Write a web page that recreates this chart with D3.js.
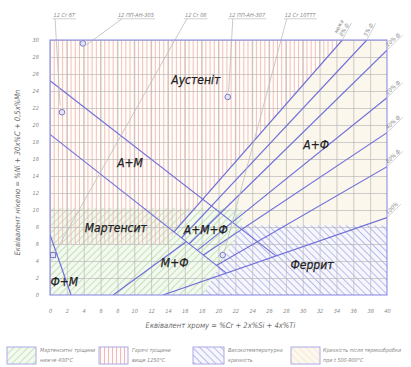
<!DOCTYPE html>
<html><head><meta charset="utf-8">
<script src="https://cdn.jsdelivr.net/npm/d3@7"></script>
<style>
html,body{margin:0;padding:0;background:#fff;}
svg{display:block;}
text{font-family:"DejaVu Sans Condensed","DejaVu Sans",sans-serif;}
</style></head><body>
<svg id="c" width="411" height="367"></svg>
<script>
// ---------- data ----------
const xTicks = [0,2,4,6,8,10,12,14,16,18,20,22,24,26,28,30,32,34,36,38,40];
const yTicks = [0,2,4,6,8,10,12,14,16,18,20,22,24,26,28,30];
const xTitle = "Еквівалент хрому = %Cr + 2x%Si + 4x%Ti";
const yTitle = "Еквівалент нікелю = %Ni + 30x%C + 0,5x%Mn";

// phase boundaries [Cr_eq, Ni_eq]
const lineA_AM   = [[0,25.2],[26.8,4.6]];   // A | A+M
const lineAM_M   = [[0,18.9],[20.9,2.6]];   // A+M | M
const lineM_MF   = [[7.5,0],[16.2,6.3]];    // M | M+F
const lineM_FM   = [[0,7.1],[2.5,0]];       // M | Ф+М

// ferrite iso-lines
const ferriteLabels = [["межа","0% ф"],["5% ф"],["10% ф"],["20% ф"],["40% ф"],["80% ф"],["100%"]];
const ferriteFrom   = [[14.7,7.4],[15.6,6.7],[16.5,6.0],[17.5,5.25],[18.2,4.7],[19.8,3.5],[13.4,0]];
const ferriteTo     = [[34.7,30],[37.6,30],[40,28.8],[40,23.2],[40,19.1],[40,15.1],[40,9.1]];

// zones
const hotCrackZone  = [[0,6],[14,6],[14.7,7.4],[34.7,30],[0,30]];
const martCrackZone = [[0,0],[18.2,0],[22.8,8.2],[22.8,10.2],[0,10.2]];
const htBrittleZone = [[18.2,0],[40,0],[40,8.2],[22.8,8.2]];
const sigmaZone     = [[14.7,7.4],[34.7,30],[40,30],[40,8.2],[22.8,8.2]];

// region names
const regionNames = ["Аустеніт","А+М","Мартенсит","А+М+Ф","М+Ф","А+Ф","Феррит","Ф+М"];
const regionPos   = [[17.3,25.3],[9.5,15.5],[7.8,7.9],[18.5,7.6],[14.8,3.8],[31.6,17.6],[31.1,3.5],[1.7,1.5]];

// weld metals
const weldNames   = ["12 Cr 6T","12 ПП-АН-305","12 Cr 08","12 ПП-АН-307","12 Cr 10ТТТ"];
const weldLabelX  = [1.7,10.2,17.3,23.4,29.7];
const weldPoints  = [[1.42,21.5],[3.9,29.6],[0.36,4.7],[21.1,23.3],[20.5,4.7]];
const weldShapes  = ["circle","circle","square","circle","circle"];
const leaderFrom  = [[0.6,32.5],[8.55,32.5],[16.25,32.5],[21.7,32.5],[28.1,32.5]];
const leaderTo    = [[1.2,22.3],[4.3,29.4],[0.6,5.0],[21.2,23.9],[20.7,5.1]];

// legend
const legendNames = [["Мартенситні тріщини","нижче 400°C"],["Гарячі тріщини","вище 1250°C"],["Високотемпературна","крихкість"],["Крихкість після термообробки","при t 500-900°C"]];

// ---------- drawing ----------
const svg = d3.select("#c");
const x = d3.scaleLinear().domain([0,40]).range([50,387]);
const y = d3.scaleLinear().domain([0,30]).range([295,40]);
const line = d3.line().x(d=>x(d[0])).y(d=>y(d[1]));
const poly = pts => line(pts) + "Z";

const defs = svg.append("defs");
function hatch(id, angle, stroke, bg, sp){
  const p = defs.append("pattern").attr("id",id).attr("patternUnits","userSpaceOnUse")
    .attr("width",sp).attr("height",sp).attr("patternTransform",`rotate(${angle})`);
  p.append("rect").attr("width",sp).attr("height",sp).attr("fill",bg);
  p.append("line").attr("x1",0.5).attr("y1",0).attr("x2",0.5).attr("y2",sp)
    .attr("stroke",stroke).attr("stroke-width",0.9);
}
hatch("gh",45,"#bfe0b6","#f3f9ef",5);
hatch("bh",-45,"#b4b4ea","#f6f6fd",5);
hatch("ph",0,"#efb3b3","#fffafa",4);
hatch("sh",-45,"#f3e6d6","#fdf8ee",5);
defs.append("clipPath").attr("id","plotclip").append("rect")
  .attr("x",x(0)).attr("y",y(30)).attr("width",x(40)-x(0)).attr("height",y(0)-y(30));
defs.append("clipPath").attr("id","hotclip").append("path").attr("d",poly(hotCrackZone));

const plot = svg.append("g").attr("clip-path","url(#plotclip)");
plot.append("rect").attr("x",x(0)).attr("y",y(30)).attr("width",x(40)-x(0)).attr("height",y(0)-y(30)).attr("fill","#fffdf8");
plot.append("path").attr("d",poly(sigmaZone)).attr("fill","#fcf7ec");
plot.append("path").attr("d",poly(martCrackZone)).attr("fill","url(#gh)");
plot.append("path").attr("d",poly(htBrittleZone)).attr("fill","url(#bh)");
// hot-crack vertical lines
plot.append("g").attr("clip-path","url(#hotclip)")
  .selectAll("line").data(d3.range(0,40.01,0.5)).join("line")
  .attr("x1",d=>x(d)).attr("x2",d=>x(d)).attr("y1",y(30)).attr("y2",y(0))
  .attr("stroke","#eeb0b0").attr("stroke-width",0.8);

// grid through axes
const gx = plot.append("g").attr("transform",`translate(0,${y(0)})`)
  .call(d3.axisBottom(x).tickValues(xTicks).tickSize(-(y(0)-y(30))).tickFormat(""));
const gy = plot.append("g").attr("transform",`translate(${x(0)},0)`)
  .call(d3.axisLeft(y).tickValues(yTicks).tickSize(-(x(40)-x(0))).tickFormat(""));
[gx,gy].forEach(g=>{g.select(".domain").remove();
  g.selectAll(".tick line").attr("stroke","#b9b9b9").attr("stroke-width",0.7);});

// phase lines
const blue = "#6f6fd9";
[lineA_AM,lineAM_M,lineM_MF,lineM_FM].forEach(l=>{
  plot.append("path").attr("d",line(l)).attr("fill","none").attr("stroke",blue).attr("stroke-width",1.2);
});
ferriteFrom.forEach((f,i)=>{
  plot.append("path").attr("d",line([f,ferriteTo[i]])).attr("fill","none").attr("stroke",blue).attr("stroke-width",1.2);
});

// leaders
leaderFrom.forEach((f,i)=>{
  svg.append("path").attr("d",line([f,leaderTo[i]])).attr("fill","none")
    .attr("stroke","#bdbdbd").attr("stroke-width",0.8);
});

// border
svg.append("rect").attr("x",x(0)).attr("y",y(30)).attr("width",x(40)-x(0)).attr("height",y(0)-y(30))
  .attr("fill","none").attr("stroke","#8d8de6").attr("stroke-width",1.1);

// markers
weldPoints.forEach((p,i)=>{
  if(weldShapes[i]==="circle"){
    svg.append("circle").attr("cx",x(p[0])).attr("cy",y(p[1])).attr("r",2.8)
      .attr("fill","#e4e4f6").attr("stroke","#7b7bc9").attr("stroke-width",1);
  } else {
    svg.append("rect").attr("x",x(p[0])-2.5).attr("y",y(p[1])-2.5).attr("width",5).attr("height",5)
      .attr("fill","#e4e4f6").attr("stroke","#7b7bc9").attr("stroke-width",1);
  }
});

// weld labels (underlined)
weldNames.forEach((n,i)=>{
  const t = svg.append("text").attr("x",x(weldLabelX[i])).attr("y",y(32.75))
    .attr("text-anchor","middle").attr("font-size",5.6).attr("font-style","italic")
    .attr("fill","#8a8a8a").text(n);
  const w = t.node().getComputedTextLength();
  svg.append("line").attr("x1",x(weldLabelX[i])-w/2-1).attr("x2",x(weldLabelX[i])+w/2+1)
    .attr("y1",y(32.5)).attr("y2",y(32.5)).attr("stroke","#bdbdbd").attr("stroke-width",0.7);
});

// ferrite line labels
ferriteTo.forEach((p,i)=>{
  const top = p[1]>=30;
  const ang = top ? -62 : -44;
  const g = svg.append("g").attr("transform",`translate(${x(p[0])},${y(p[1])}) rotate(${ang})`);
  const lab = ferriteLabels[i];
  let maxw = 0;
  lab.forEach((s,k)=>{
    const t = g.append("text").attr("x",3).attr("y",-1.5-(lab.length-1-k)*6)
      .attr("font-size",5.6).attr("font-style","italic").attr("fill","#8a8a8a").text(s);
    maxw = Math.max(maxw,t.node().getComputedTextLength());
  });
  g.append("line").attr("x1",0).attr("y1",0).attr("x2",maxw+5).attr("y2",0)
    .attr("stroke","#c4c4c4").attr("stroke-width",0.7);
});

// region labels
regionNames.forEach((n,i)=>{
  svg.append("text").attr("x",x(regionPos[i][0])).attr("y",y(regionPos[i][1]))
    .attr("text-anchor","middle").attr("dominant-baseline","central")
    .attr("font-size",12).attr("font-style","italic").attr("fill","#1f1f1f")
    .attr("stroke","#1f1f1f").attr("stroke-width",0.25).text(n);
});

// axes tick labels
const ax = svg.append("g").attr("transform",`translate(0,${y(0)})`)
  .call(d3.axisBottom(x).tickValues(xTicks).tickSize(0).tickPadding(14));
const ay = svg.append("g").attr("transform",`translate(${x(0)},0)`)
  .call(d3.axisLeft(y).tickValues(yTicks).tickSize(0).tickPadding(11));
[ax,ay].forEach(g=>{g.select(".domain").remove();
  g.selectAll("text").attr("font-size",5.6).attr("font-style","italic").attr("fill","#8a8a8a")
   .attr("font-family",'"DejaVu Sans Condensed","DejaVu Sans",sans-serif');});

svg.append("text").attr("x",(x(0)+x(40))/2+2).attr("y",328).attr("text-anchor","middle")
  .attr("font-size",7.6).attr("font-style","italic").attr("fill","#6a6a6a").text(xTitle);
svg.append("text").attr("transform",`translate(20,${(y(0)+y(30))/2+5}) rotate(-90)`)
  .attr("text-anchor","middle").attr("font-size",7.6).attr("font-style","italic")
  .attr("fill","#6a6a6a").text(yTitle);

// legend
const legFill = ["url(#gh)","url(#ph)","url(#bh)","url(#sh)"];
const legBoxX = [7,99,193,291];
const legTextX = [40,132,228,323];
legendNames.forEach((lines,i)=>{
  svg.append("rect").attr("x",legBoxX[i]).attr("y",347).attr("width",i===2?31:29).attr("height",17)
    .attr("fill",legFill[i]).attr("stroke","#a2a2e4").attr("stroke-width",0.9);
  lines.forEach((s,k)=>{
    svg.append("text").attr("x",legTextX[i]).attr("y",352+k*10)
      .attr("font-size",5.4).attr("font-style","italic").attr("fill","#8a8a8a").text(s);
  });
});
</script>
</body></html>
